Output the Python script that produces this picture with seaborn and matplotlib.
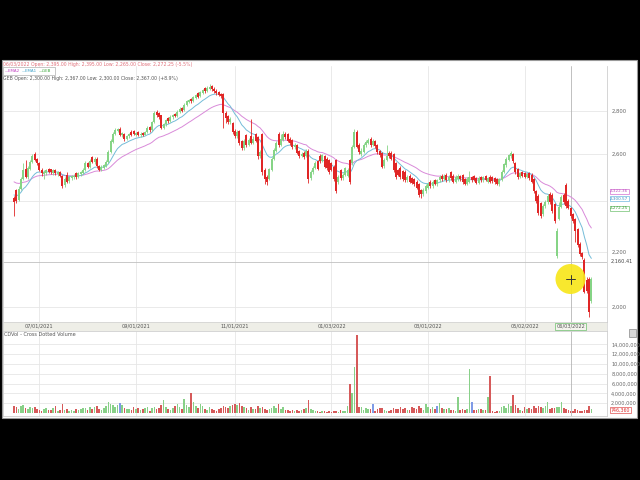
import numpy as np
import pandas as pd
import seaborn as sns
from matplotlib import pyplot as plt
import matplotlib.patches as patches
import matplotlib.ticker as mticker
from matplotlib.lines import Line2D

sns.set_theme(style="white")
plt.rcParams['font.family'] = ['DejaVu Sans']

# daily candles, mid June 2021 -> mid June 2022 (one entry per trading day)
opens = [2410, 2445, 2405, 2450, 2490, 2535, 2500, 2535, 2565, 2600,
         2578, 2560, 2530, 2512, 2515, 2535, 2532, 2518, 2530, 2512,
         2520, 2505, 2465, 2510, 2482, 2495, 2498, 2515, 2500, 2512,
         2518, 2530, 2560, 2545, 2585, 2565, 2580, 2548, 2530, 2540,
         2548, 2565, 2610, 2655, 2690, 2705, 2715, 2685, 2692, 2668,
         2680, 2700, 2705, 2688, 2698, 2685, 2694, 2688, 2700, 2722,
         2708, 2745, 2795, 2790, 2778, 2720, 2735, 2765, 2752, 2768,
         2785, 2775, 2795, 2815, 2805, 2828, 2842, 2858, 2845, 2862,
         2885, 2870, 2888, 2912, 2895, 2908, 2920, 2908, 2898, 2890,
         2880, 2880, 2790, 2775, 2745, 2740, 2705, 2680, 2705, 2660,
         2625, 2685, 2640, 2680, 2650, 2690, 2675, 2590, 2690, 2530,
         2500, 2490, 2530, 2580, 2615, 2690, 2640, 2665, 2692, 2690,
         2668, 2665, 2630, 2640, 2615, 2590, 2605, 2590, 2615, 2495,
         2520, 2540, 2570, 2590, 2570, 2590, 2580, 2575, 2560, 2545,
         2575, 2480, 2530, 2495, 2510, 2505, 2575, 2560, 2630, 2700,
         2640, 2600, 2610, 2640, 2650, 2670, 2640, 2660, 2640, 2615,
         2605, 2548, 2575, 2605, 2605, 2600, 2560, 2530, 2540, 2525,
         2520, 2485, 2505, 2495, 2490, 2480, 2470, 2445, 2430, 2440,
         2455, 2480, 2460, 2485, 2468, 2485, 2505, 2490, 2510, 2485,
         2520, 2505, 2480, 2490, 2505, 2508, 2490, 2470, 2480, 2500,
         2505, 2495, 2475, 2500, 2485, 2505, 2478, 2498, 2500, 2495,
         2490, 2470, 2488, 2520, 2550, 2575, 2590, 2600, 2560, 2535,
         2500, 2520, 2515, 2500, 2515, 2510, 2490, 2440, 2420, 2390,
         2345, 2380, 2395, 2430, 2425, 2385, 2182, 2325, 2375, 2425,
         2465, 2400, 2370, 2345, 2325, 2285, 2230, 2195, 2170, 2097,
         2100, 2020]
highs = [2418, 2450, 2460, 2500, 2560, 2575, 2548, 2572, 2598, 2610,
         2584, 2565, 2538, 2528, 2534, 2540, 2536, 2534, 2536, 2526,
         2525, 2510, 2500, 2520, 2506, 2510, 2512, 2520, 2520, 2526,
         2540, 2568, 2566, 2578, 2592, 2588, 2585, 2552, 2550, 2556,
         2572, 2620, 2668, 2700, 2718, 2720, 2722, 2702, 2696, 2688,
         2696, 2708, 2710, 2702, 2704, 2698, 2700, 2706, 2726, 2728,
         2752, 2798, 2802, 2796, 2782, 2742, 2762, 2770, 2778, 2786,
         2790, 2802, 2818, 2820, 2836, 2852, 2858, 2864, 2872, 2882,
         2890, 2898, 2908, 2918, 2922, 2930, 2928, 2914, 2904, 2895,
         2886, 2885, 2800, 2780, 2768, 2748, 2712, 2708, 2710, 2665,
         2668, 2690, 2672, 2760, 2680, 2696, 2680, 2620, 2696, 2540,
         2510, 2540, 2588, 2628, 2658, 2700, 2690, 2705, 2700, 2695,
         2675, 2670, 2648, 2646, 2620, 2610, 2612, 2622, 2622, 2530,
         2548, 2570, 2575, 2600, 2602, 2596, 2585, 2580, 2565, 2550,
         2580, 2510, 2536, 2518, 2545, 2538, 2580, 2640, 2712, 2708,
         2650, 2625, 2650, 2662, 2672, 2676, 2668, 2665, 2646, 2620,
         2610, 2582, 2640, 2612, 2612, 2606, 2565, 2536, 2546, 2530,
         2528, 2510, 2512, 2500, 2496, 2486, 2476, 2450, 2452, 2468,
         2478, 2486, 2488, 2492, 2492, 2508, 2512, 2512, 2516, 2508,
         2526, 2512, 2510, 2512, 2510, 2512, 2496, 2498, 2525, 2506,
         2510, 2500, 2502, 2506, 2505, 2510, 2500, 2510, 2506, 2500,
         2496, 2496, 2528, 2562, 2588, 2602, 2612, 2606, 2566, 2540,
         2522, 2526, 2520, 2518, 2520, 2515, 2495, 2446, 2426, 2396,
         2388, 2402, 2430, 2436, 2432, 2392, 2290, 2395, 2425, 2432,
         2475, 2408, 2376, 2350, 2330, 2290, 2236, 2200, 2175, 2106,
         2105, 2108]
lows = [2340, 2392, 2398, 2445, 2485, 2495, 2490, 2528, 2560, 2568,
        2550, 2525, 2505, 2490, 2508, 2515, 2512, 2510, 2508, 2504,
        2498, 2455, 2458, 2475, 2476, 2488, 2490, 2492, 2495, 2506,
        2512, 2525, 2538, 2540, 2560, 2558, 2540, 2525, 2525, 2535,
        2542, 2560, 2605, 2650, 2684, 2698, 2680, 2678, 2660, 2662,
        2674, 2682, 2684, 2680, 2680, 2678, 2680, 2684, 2695, 2700,
        2704, 2740, 2772, 2762, 2712, 2712, 2728, 2744, 2746, 2762,
        2768, 2770, 2790, 2795, 2800, 2822, 2836, 2838, 2840, 2855,
        2862, 2865, 2882, 2888, 2890, 2900, 2898, 2888, 2878, 2870,
        2862, 2720, 2740, 2738, 2735, 2692, 2672, 2674, 2640, 2618,
        2620, 2632, 2635, 2645, 2645, 2652, 2580, 2582, 2510, 2470,
        2465, 2485, 2525, 2575, 2610, 2632, 2635, 2660, 2668, 2652,
        2642, 2622, 2622, 2598, 2582, 2585, 2578, 2585, 2475, 2488,
        2512, 2535, 2528, 2562, 2565, 2540, 2530, 2512, 2525, 2482,
        2432, 2470, 2488, 2488, 2505, 2500, 2470, 2550, 2625, 2625,
        2600, 2590, 2605, 2632, 2645, 2632, 2635, 2628, 2602, 2588,
        2538, 2540, 2570, 2582, 2572, 2520, 2492, 2502, 2492, 2482,
        2478, 2478, 2472, 2468, 2462, 2448, 2415, 2410, 2420, 2432,
        2448, 2452, 2455, 2464, 2462, 2478, 2484, 2485, 2478, 2480,
        2488, 2472, 2475, 2484, 2482, 2470, 2464, 2465, 2475, 2478,
        2482, 2468, 2470, 2478, 2480, 2482, 2474, 2475, 2476, 2470,
        2464, 2462, 2482, 2515, 2545, 2568, 2584, 2562, 2512, 2492,
        2494, 2498, 2494, 2494, 2488, 2472, 2432, 2392, 2342, 2330,
        2338, 2372, 2388, 2388, 2352, 2310, 2175, 2322, 2370, 2388,
        2372, 2365, 2332, 2310, 2235, 2218, 2182, 2172, 2050, 2050,
        1968, 2015]
closes = [2395, 2400, 2450, 2490, 2530, 2500, 2540, 2565, 2590, 2575,
          2560, 2530, 2515, 2522, 2528, 2522, 2520, 2528, 2515, 2520,
          2505, 2460, 2490, 2480, 2500, 2502, 2505, 2498, 2515, 2520,
          2530, 2560, 2545, 2570, 2565, 2580, 2548, 2530, 2545, 2550,
          2565, 2610, 2660, 2690, 2710, 2712, 2685, 2695, 2668, 2680,
          2690, 2688, 2690, 2696, 2685, 2692, 2686, 2700, 2720, 2708,
          2745, 2790, 2780, 2770, 2720, 2735, 2755, 2750, 2770, 2780,
          2775, 2795, 2810, 2800, 2830, 2845, 2850, 2845, 2865, 2875,
          2868, 2890, 2900, 2895, 2910, 2915, 2905, 2895, 2885, 2878,
          2870, 2790, 2765, 2745, 2760, 2700, 2680, 2700, 2650, 2625,
          2660, 2640, 2665, 2650, 2670, 2660, 2590, 2610, 2520, 2490,
          2480, 2535, 2580, 2620, 2650, 2640, 2670, 2690, 2675, 2660,
          2650, 2630, 2640, 2605, 2590, 2600, 2585, 2615, 2490, 2520,
          2540, 2560, 2535, 2570, 2595, 2545, 2540, 2520, 2530, 2490,
          2440, 2500, 2495, 2510, 2540, 2530, 2478, 2630, 2700, 2632,
          2610, 2615, 2640, 2655, 2665, 2640, 2660, 2635, 2610, 2595,
          2545, 2575, 2590, 2590, 2580, 2530, 2500, 2510, 2500, 2490,
          2485, 2500, 2480, 2475, 2470, 2455, 2425, 2430, 2445, 2460,
          2470, 2460, 2480, 2470, 2485, 2500, 2490, 2505, 2485, 2500,
          2495, 2480, 2500, 2505, 2490, 2478, 2470, 2490, 2500, 2485,
          2488, 2475, 2495, 2485, 2498, 2488, 2495, 2480, 2482, 2478,
          2470, 2490, 2520, 2555, 2580, 2595, 2605, 2570, 2520, 2500,
          2515, 2505, 2500, 2512, 2495, 2480, 2440, 2400, 2350, 2340,
          2380, 2395, 2420, 2395, 2360, 2320, 2280, 2375, 2415, 2395,
          2380, 2372, 2340, 2318, 2280, 2225, 2190, 2180, 2054, 2058,
          1985, 2100]
volume_m = [1.5, 1.2, 0.9, 1.4, 1.6, 1.1, 0.8, 1.3, 1.0, 1.2,
            0.9, 0.6, 0.5, 0.8, 1.1, 0.7, 0.6, 1.0, 1.4, 0.5,
            0.6, 1.8, 0.7, 0.9, 0.5, 0.6, 0.4, 0.8, 0.6, 0.9,
            1.1, 1.0, 0.7, 1.3, 0.8, 1.2, 1.5, 0.9, 0.7, 1.0,
            1.4, 2.3, 1.8, 1.6, 1.2, 1.7, 2.0, 1.6, 1.1, 0.8,
            0.9, 0.7, 1.3, 0.8, 1.1, 0.6, 0.9, 1.0, 1.2, 0.5,
            1.0, 1.3, 0.8, 1.1, 1.6, 2.7, 1.2, 0.9, 0.6, 1.0,
            1.4, 1.8, 1.2, 0.8, 2.8, 1.6, 1.3, 4.0, 2.2, 1.5,
            1.0, 1.8, 1.4, 0.9, 0.6, 1.2, 0.8, 0.7, 0.5, 0.9,
            1.1, 1.5, 1.3, 1.0, 1.4, 1.7, 1.9, 1.6, 2.0, 1.5,
            1.2, 1.0, 0.7, 1.3, 0.9, 0.8, 1.4, 1.1, 1.2, 0.8,
            0.6, 0.9, 1.1, 1.4, 1.0, 1.8, 0.9, 1.2, 0.7, 0.6,
            0.5, 0.6, 0.4, 0.7, 0.5, 0.6, 0.8, 1.0, 2.7, 0.9,
            0.7, 0.5, 0.4, 0.3, 0.4, 0.5, 0.3, 0.4, 0.3, 0.5,
            0.4, 0.3, 0.6, 0.5, 0.4, 1.5, 6.0, 4.0, 9.4, 15.8,
            1.3, 1.2, 0.6, 1.0, 0.8, 0.9, 1.9, 0.5, 0.9, 1.0,
            1.1, 0.6, 0.4, 0.5, 0.7, 1.0, 0.9, 0.8, 1.2, 0.9,
            1.0, 0.7, 0.6, 1.3, 1.1, 0.8, 1.5, 1.0, 0.7, 1.9,
            1.2, 0.9, 1.3, 0.8, 1.4, 2.0, 1.1, 0.9, 0.8, 1.0,
            0.6, 0.7, 0.5, 3.2, 0.6, 0.9, 0.7, 0.8, 9.0, 2.2,
            0.7, 0.6, 0.9, 0.8, 0.6, 0.7, 3.3, 7.5, 0.4, 0.3,
            0.5, 0.4, 1.2, 1.5, 1.0, 1.8, 1.4, 3.6, 1.6, 1.1,
            0.6, 0.5, 1.2, 0.9, 1.0, 0.8, 1.4, 1.1, 1.5, 1.3,
            1.0, 1.4, 2.2, 0.9, 1.1, 1.0, 1.3, 1.2, 2.2, 1.0,
            0.9, 0.7, 0.5, 0.4, 0.8, 0.6, 0.4, 0.5, 0.7, 0.6,
            1.5, 0.8]
blue_vol_days = [46, 156, 184, 199]

tick_days = [11, 53, 96, 138, 180, 222]
tick_labels = ['07/01/2021', '09/01/2021', '11/01/2021',
               '01/03/2022', '03/01/2022', '05/02/2022']
cursor_day = 242
cursor_label = '06/03/2022'
cursor_price = 2160.41
price_ticks = [2000, 2200, 2400, 2600, 2800]
price_tick_labels = ['2,000', '2,200', '', '2,600', '2,800']  # 2,400 sits under the value tags
vol_ticks = [2, 4, 6, 8, 10, 12, 14]
last_volume = '746,360'

ema_fast_span, ema_slow_span = 12, 30
ema_fast_seed, ema_slow_seed = 2424, 2479
tag_values = ['2,322.36', '2,300.57', '2,272.25']

UP = '#86d486'
DOWN = '#e02626'
EMA_SLOW_C = '#d98ad9'
EMA_FAST_C = '#74bcd8'
GRID = '#e6e6e6'


def ema(values, span, seed):
    a = 2 / (span + 1)
    out = [seed]
    for v in values[1:]:
        out.append(a * v + (1 - a) * out[-1])
    return out


def fx(p):
    return p / 640


def fy(p):
    return 1 - p / 480


df = pd.DataFrame({'day': np.arange(len(closes)), 'open': opens, 'high': highs,
                   'low': lows, 'close': closes, 'volume': volume_m})
df['up'] = df.close >= df.open
df['ema_fast'] = ema(closes, ema_fast_span, ema_fast_seed)
df['ema_slow'] = ema(closes, ema_slow_span, ema_slow_seed)
colors = np.where(df.up, UP, DOWN)

fig = plt.figure(figsize=(6.4, 4.8), dpi=100, facecolor='black')
fig.add_artist(patches.Rectangle((fx(2), fy(418)), 635 / 640, 358 / 480, transform=fig.transFigure,
                                 fc='white', ec='#9a9a9a', lw=0.8, zorder=0))

X0, W = fx(3), 604 / 640
XLIM = (-4.8, 257.8)

# ---- price panel
ax = fig.add_axes([X0, fy(322), W, 256 / 480])
ax.set_yscale('log')
ax.vlines(df.day, df.low, df.high, colors=colors, lw=0.6, zorder=3)
body = (df.close - df.open).abs().clip(lower=2)
ax.bar(df.day, body, bottom=np.minimum(df.open, df.close), width=0.85, color=colors, lw=0, zorder=4)
sns.lineplot(x=df.day, y=df.ema_slow, ax=ax, color=EMA_SLOW_C, lw=0.7, zorder=2)
sns.lineplot(x=df.day, y=df.ema_fast, ax=ax, color=EMA_FAST_C, lw=0.7, zorder=2)
ax.set_xlim(*XLIM)
ax.set_ylim(1950, 3023)
ax.yaxis.set_major_locator(mticker.FixedLocator(price_ticks))
ax.yaxis.set_minor_locator(mticker.NullLocator())
ax.yaxis.set_major_formatter(mticker.FixedFormatter(price_tick_labels))
ax.yaxis.tick_right()
ax.set_xticks(tick_days)
ax.tick_params(axis='both', which='both', length=0, labelsize=3.8, pad=3, labelcolor='#666')
ax.tick_params(axis='x', labelbottom=False)
ax.grid(True, color=GRID, lw=0.6)
ax.set_xlabel('')
ax.set_ylabel('')
ax.axvline(cursor_day, color='#b5b5b5', lw=0.6, zorder=1)
ax.axhline(cursor_price, color='#c0c0c0', lw=0.6, zorder=1)
for s in ax.spines.values():
    s.set_color('#cfcfcf')
    s.set_linewidth(0.6)
ax.spines['top'].set_visible(False)

# ---- date strip
ax_d = fig.add_axes([X0, fy(331), W, 9 / 480], facecolor='#eeeee7')
ax_d.set_xlim(*XLIM)
ax_d.set_ylim(0, 1)
ax_d.set_xticks([])
ax_d.set_yticks([])
for s in ax_d.spines.values():
    s.set_color('#cfcfcf')
    s.set_linewidth(0.5)
for d, lab in zip(tick_days, tick_labels):
    ax_d.text(d, 0.5, lab, ha='center', va='center', fontsize=3.6, color='#555')
ax_d.text(cursor_day, 0.5, cursor_label, ha='center', va='center', fontsize=3.6, color='#555',
          bbox=dict(boxstyle='square,pad=0.25', fc='#f4f4ee', ec='#6cbf6c', lw=0.5))

# ---- volume panel
vol_colors = np.where(df.up, '#88d088', '#d65a5a').astype(object)
vol_colors[blue_vol_days] = '#7f9be6'
ax_v = fig.add_axes([X0, fy(416), W, 85 / 480])
ax_v.bar(df.day, df.volume, width=0.7, color=vol_colors, lw=0, zorder=3)
ax_v.set_xlim(*XLIM)
ax_v.set_ylim(-0.6, 16.7)
ax_v.yaxis.tick_right()
ax_v.set_yticks(vol_ticks)
ax_v.set_yticklabels([f'{v * 1_000_000:,.0f}' for v in vol_ticks])
ax_v.set_xticks(tick_days)
ax_v.tick_params(axis='both', length=0, labelsize=3.6, pad=3, labelcolor='#666')
ax_v.tick_params(axis='x', labelbottom=False)
ax_v.grid(True, color=GRID, lw=0.6)
ax_v.axvline(cursor_day, color='#b5b5b5', lw=0.6, zorder=1)
for s in ax_v.spines.values():
    s.set_color('#cfcfcf')
    s.set_linewidth(0.6)
fig.text(fx(4), fy(335), 'CDVol - Cross Dotted Volume', fontsize=3.6, color='#555', va='center')
fig.text(fx(611), fy(410), last_volume, fontsize=3.4, color='#e03030', va='center',
         bbox=dict(boxstyle='square,pad=0.2', fc='white', ec='#e05050', lw=0.5))
fig.add_artist(patches.Rectangle((fx(629), fy(337)), 7 / 640, 8 / 480, transform=fig.transFigure,
                                 fc='#d8d8d8', ec='#888', lw=0.5))

# ---- header
fig.text(fx(3), fy(64.5), '06/03/2022 Open: 2,395.00 High: 2,395.00 Low: 2,265.00 Close: 2,272.25 (-5.5%)',
         fontsize=3.3, color='#e0707a', va='center')
legend_box = patches.Rectangle((fx(3), fy(75)), 52 / 640, 8 / 480, transform=fig.transFigure,
                               fc='white', ec='#b0b0b0', lw=0.5)
fig.add_artist(legend_box)
for xp, lab, c in [(4.5, '\u2014EMA2', '#c040c0'), (21.5, '\u2014EMA1', '#3aa0c8'), (38.5, '\u2014GEB', '#3faa3f')]:
    fig.text(fx(xp), fy(71), lab, fontsize=2.9, color=c, va='center')
fig.text(fx(3), fy(78.5), 'GEB Open: 2,300.00 High: 2,367.00 Low: 2,300.00 Close: 2,367.00 (+8.9%)',
         fontsize=3.3, color='#555', va='center')

# ---- price tags on the right
for yp, txt, ec, c in [(191.5, tag_values[0], '#d070d0', '#c050c0'),
                       (198.5, tag_values[1], '#70b8e0', '#3a90c0'),
                       (208, tag_values[2], '#70c070', '#3a9a3a')]:
    fig.text(fx(610), fy(yp), txt, fontsize=3.0, color=c, va='center',
             bbox=dict(boxstyle='square,pad=0.12', fc='white', ec=ec, lw=0.5))
fig.text(fx(611), fy(261), f'{cursor_price:,.2f}', fontsize=3.6, color='#444', va='center')

# ---- cursor highlight
fig.add_artist(patches.Ellipse((fx(570.5), fy(279)), 30 / 640, 30 / 480, transform=fig.transFigure,
                               fc='#f8e71c', ec='none', alpha=0.92, zorder=10))
fig.add_artist(Line2D([fx(566), fx(575)], [fy(279), fy(279)], transform=fig.transFigure,
                      color='#333', lw=0.7, zorder=11))
fig.add_artist(Line2D([fx(570.5), fx(570.5)], [fy(274.5), fy(283.5)], transform=fig.transFigure,
                      color='#333', lw=0.7, zorder=11))

fig.savefig('out.png', dpi=100, facecolor='black')
